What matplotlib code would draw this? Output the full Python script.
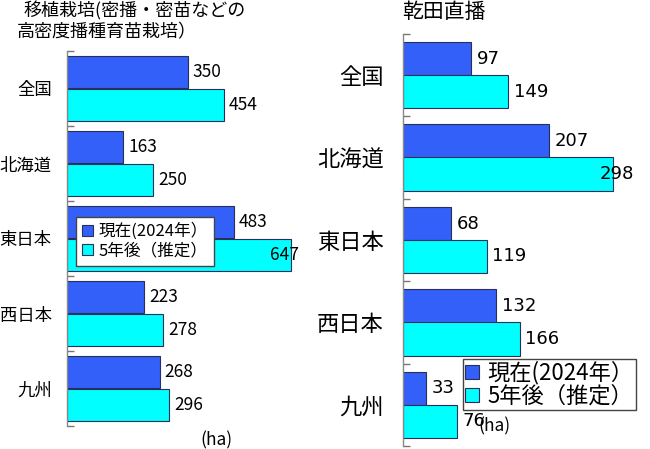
import matplotlib.pyplot as plt

plt.rcParams['font.family'] = ['Noto Sans CJK JP', 'DejaVu Sans']

# data
regions = ['全国', '北海道', '東日本', '西日本', '九州']
series_names = ['現在(2024年）', '5年後（推定）']
transplant_now = [350, 163, 483, 223, 268]
transplant_5y = [454, 250, 647, 278, 296]
direct_now = [97, 207, 68, 132, 33]
direct_5y = [149, 298, 119, 166, 76]

BLUE = '#3460FA'
CYAN = '#00FFFF'
EDGE = '#26305A'
W, H = 650, 449


def px_axes(fig, x0, y0, x1, y1):
    # axes from pixel box (top-left origin)
    return fig.add_axes([x0 / W, 1 - y1 / H, (x1 - x0) / W, (y1 - y0) / H])


def draw_panel(ax, now, future, xmax, bar_h, off, pad, lim, val_fs, val_family,
               cat_fs, cat_pad):
    ys = list(range(len(regions)))
    ax.barh([y - off for y in ys], now, height=bar_h, color=BLUE,
            edgecolor=EDGE, linewidth=0.8, label=series_names[0])
    ax.barh([y + off for y in ys], future, height=bar_h, color=CYAN,
            edgecolor=EDGE, linewidth=0.8, label=series_names[1])
    ax.set_xlim(0, xmax)
    ax.set_ylim(len(regions) - 0.5, -0.5)
    for y, a, b in zip(ys, now, future):
        ax.text(min(a + pad, lim), y - off, str(a), va='center', ha='left',
                fontsize=val_fs, family=val_family)
        ax.text(min(b + pad, lim), y + off, str(b), va='center', ha='left',
                fontsize=val_fs, family=val_family)
    # boundary ticks, category labels as minor ticks
    ax.set_yticks([y - 0.5 for y in range(len(regions) + 1)])
    ax.set_yticklabels([])
    ax.tick_params(axis='y', which='major', direction='in', length=5,
                   color='#777777', width=1)
    ax.set_yticks(ys, minor=True)
    ax.set_yticklabels(regions, minor=True, fontsize=cat_fs)
    ax.tick_params(axis='y', which='minor', length=0, pad=cat_pad)
    ax.set_xticks([])
    for s in ['top', 'right', 'bottom']:
        ax.spines[s].set_visible(False)
    ax.spines['left'].set_color('#888888')
    ax.spines['left'].set_linewidth(1)


fig = plt.figure(figsize=(6.5, 4.49), dpi=100)
fig.patch.set_facecolor('white')

ax1 = px_axes(fig, 67, 51, 309, 426)
draw_panel(ax1, transplant_now, transplant_5y, 700, 0.427, 0.214, 14, 587,
           12.5, 'Noto Sans CJK JP', 12.5, 11)

ax2 = px_axes(fig, 403.3, 34, 628, 446)
draw_panel(ax2, direct_now, direct_5y, 320, 0.405, 0.2, 8, 279,
           13, 'DejaVu Sans', 16, 14)

fig.text(23 / W, 1 - 11 / H, '移植栽培(密播・密苗などの', fontsize=13,
         va='center', ha='left')
fig.text(17 / W, 1 - 32 / H, '高密度播種育苗栽培）', fontsize=13,
         va='center', ha='left')
fig.text(402 / W, 1 - 12 / H, '乾田直播', fontsize=15, va='center', ha='left')

fig.text(200 / W, 1 - 440 / H, '(ha)', fontsize=12.5, va='center', ha='left')
fig.text(478 / W, 1 - 426 / H, '(ha)', fontsize=12.5, va='center', ha='left')

leg1 = ax1.legend(loc='upper left', bbox_to_anchor=(76 / W, 1 - 217 / H),
                  bbox_transform=fig.transFigure, fontsize=12, frameon=True,
                  fancybox=False, edgecolor='#444444', framealpha=1,
                  handlelength=0.65, handleheight=0.65, handletextpad=0.35,
                  borderpad=0.35, labelspacing=0.15, borderaxespad=0)
leg1.get_frame().set_linewidth(1)

leg2 = ax2.legend(loc='upper left', bbox_to_anchor=(463 / W, 1 - 359 / H),
                  bbox_transform=fig.transFigure, fontsize=16, frameon=True,
                  fancybox=False, edgecolor='#444444', framealpha=1,
                  handlelength=0.6, handleheight=0.6, handletextpad=0.4,
                  borderpad=0.1, labelspacing=0.0, borderaxespad=0)
leg2.get_frame().set_linewidth(1)

fig.savefig('out.png', dpi=100)
